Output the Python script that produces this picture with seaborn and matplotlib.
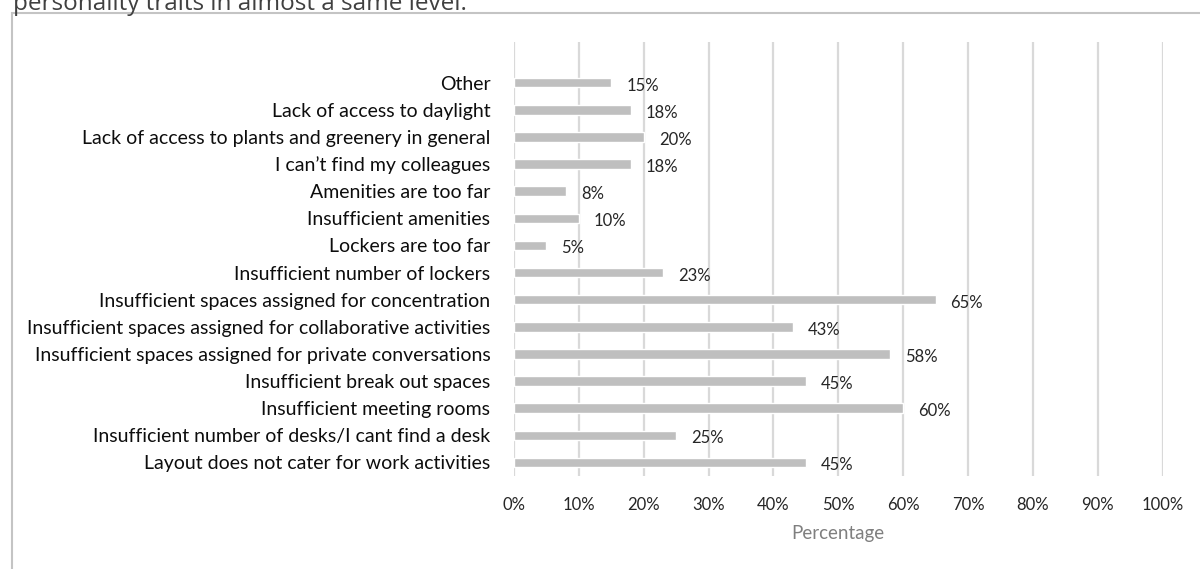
import matplotlib
matplotlib.use("Agg")
import matplotlib.pyplot as plt
import seaborn as sns
import pandas as pd
from matplotlib.patches import Rectangle
from matplotlib.ticker import FuncFormatter

categories = [
    "Other",
    "Lack of access to daylight",
    "Lack of access to plants and greenery in general",
    "I can\u2019t find my colleagues",
    "Amenities are too far",
    "Insufficient amenities",
    "Lockers are too far",
    "Insufficient number of lockers",
    "Insufficient spaces assigned for concentration",
    "Insufficient spaces assigned for collaborative activities",
    "Insufficient spaces assigned for private conversations",
    "Insufficient break out spaces",
    "Insufficient meeting rooms",
    "Insufficient number of desks/I cant find a desk",
    "Layout does not cater for work activities",
]
percentages = [15, 18, 20, 18, 8, 10, 5, 23, 65, 43, 58, 45, 60, 25, 45]
x_ticks = [0, 10, 20, 30, 40, 50, 60, 70, 80, 90, 100]

df = pd.DataFrame({"issue": categories, "pct": percentages})

sns.set_theme(style="white")
plt.rcParams["font.family"] = ["Lato", "DejaVu Sans"]

W, H = 1200, 569
fig = plt.figure(figsize=(W / 100, H / 100), dpi=100)
fig.patch.set_facecolor("white")

# outer frame of the chart area
fig.add_artist(Rectangle((11.5 / W, -0.05), 1.2, 1 - 12.5 / H + 0.05,
                         transform=fig.transFigure, fill=False,
                         edgecolor="#c4c4c4", linewidth=1.5))

# caption line above the frame
fig.text(13 / W, 1 - 10 / H, "personality traits in almost a same level.",
         fontsize=17.5, color="#404040", va="baseline", ha="left",
         family=["Open Sans", "DejaVu Sans"])

ax = fig.add_axes([514 / W, 1 - 476 / H, (1162.5 - 514) / W, (476 - 42) / H])
sns.barplot(data=df, x="pct", y="issue", orient="h", color="#bfbfbf",
            width=0.35, saturation=1, ax=ax, zorder=3)

ax.set_xlim(0, 100)
ax.set_ylim(14.5, -1.5)
ax.set_xticks(x_ticks)
ax.xaxis.set_major_formatter(FuncFormatter(lambda v, _: f"{v:.0f}%"))
ax.grid(axis="x", color="#d9d9d9", linewidth=1.6, zorder=0)
ax.grid(axis="y", visible=False)
for s in ax.spines.values():
    s.set_visible(False)

ax.tick_params(axis="x", length=0, pad=15, labelsize=12, labelcolor="#262626")
ax.tick_params(axis="y", length=0, pad=17, labelsize=14, labelcolor="#0d0d0d")
ax.set_ylabel("")
ax.set_xlabel("Percentage", fontsize=13.5, color="#7f7f7f", labelpad=9)

for i, v in enumerate(percentages):
    ax.annotate(f"{v}%", xy=(v, i), xytext=(15, -3), textcoords="offset pixels",
                ha="left", va="center", fontsize=12, color="#262626", zorder=4)

fig.savefig("out.png", dpi=100, facecolor="white")
